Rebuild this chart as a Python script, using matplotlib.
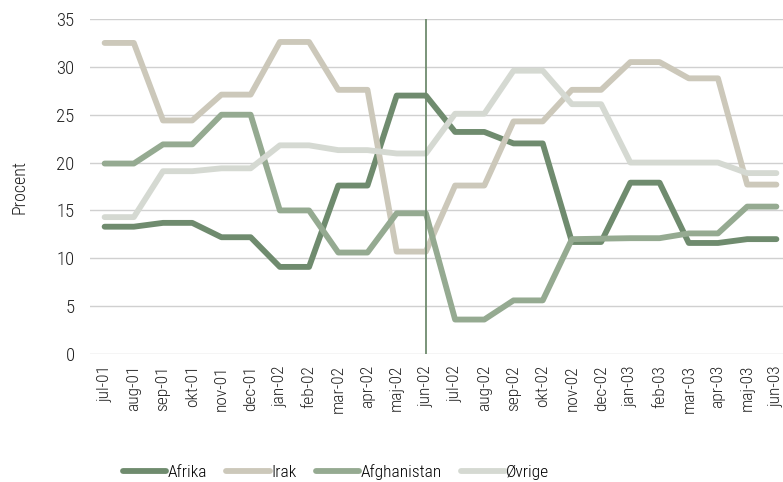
import matplotlib
matplotlib.use("Agg")
import matplotlib.pyplot as plt
import numpy as np

months = ["jul-01", "aug-01", "sep-01", "okt-01", "nov-01", "dec-01",
          "jan-02", "feb-02", "mar-02", "apr-02", "maj-02", "jun-02",
          "jul-02", "aug-02", "sep-02", "okt-02", "nov-02", "dec-02",
          "jan-03", "feb-03", "mar-03", "apr-03", "maj-03", "jun-03"]

afrika = [13.3, 13.3, 13.7, 13.7, 12.2, 12.2, 9.1, 9.1, 17.6, 17.6, 27.0, 27.0,
          23.2, 23.2, 22.0, 22.0, 11.7, 11.7, 17.9, 17.9, 11.6, 11.6, 12.0, 12.0]
irak = [32.5, 32.5, 24.4, 24.4, 27.1, 27.1, 32.6, 32.6, 27.6, 27.6, 10.7, 10.7,
        17.6, 17.6, 24.3, 24.3, 27.6, 27.6, 30.5, 30.5, 28.8, 28.8, 17.7, 17.7]
afghanistan = [19.9, 19.9, 21.9, 21.9, 25.0, 25.0, 15.0, 15.0, 10.6, 10.6, 14.7, 14.7,
               3.6, 3.6, 5.6, 5.6, 12.0, 12.05, 12.1, 12.1, 12.6, 12.6, 15.4, 15.4]
ovrige = [14.3, 14.3, 19.1, 19.1, 19.4, 19.4, 21.8, 21.8, 21.3, 21.3, 20.95, 20.95,
          25.1, 25.1, 29.6, 29.6, 26.1, 26.1, 20.0, 20.0, 20.0, 20.0, 18.9, 18.9]

series = [("Afrika", afrika, "#6f8b6e"),
          ("Irak", irak, "#ccc8ba"),
          ("Afghanistan", afghanistan, "#95aa91"),
          ("Øvrige", ovrige, "#d5d9d2")]
marker_month = "jun-02"

plt.rcParams["font.family"] = ["Roboto Condensed", "DejaVu Sans"]
plt.rcParams["font.weight"] = "light"

fig = plt.figure(figsize=(7.83, 4.82), dpi=100)
# axes runs a bit past the right edge, as in the original
ax = fig.add_axes([90 / 783, 1 - 354 / 482, 701 / 783, 335 / 482])

x = np.arange(len(months))
for name, vals, col in series:
    ax.plot(x, vals, color=col, lw=4.2, label=name, solid_capstyle="round")

ax.axvline(months.index(marker_month), color="#6f8b6e", lw=1.3, zorder=5)

ax.set_xlim(-0.5, len(months) - 0.5)
ax.set_ylim(0, 35)
ax.set_yticks(range(0, 36, 5))
ax.set_xticks(x)
ax.set_xticklabels(months, rotation=90, fontsize=12.5, color="#222222")
ax.tick_params(axis="y", labelsize=13.5, colors="#222222", length=0, pad=11)
ax.tick_params(axis="x", length=0, pad=8)
ax.grid(axis="y", color="#d0d0d0", lw=1)
ax.set_axisbelow(True)
for s in ax.spines.values():
    s.set_visible(False)
ax.set_ylabel("Procent", fontsize=13, color="#222222", labelpad=20,
              fontweight="light")

fig.legend(loc="center", bbox_to_anchor=(336 / 783, 1 - 472 / 482), ncol=4,
           frameon=False, fontsize=12.5, handlelength=2.5, handletextpad=0.1,
           columnspacing=1.1)

fig.savefig("out.png", dpi=100)
